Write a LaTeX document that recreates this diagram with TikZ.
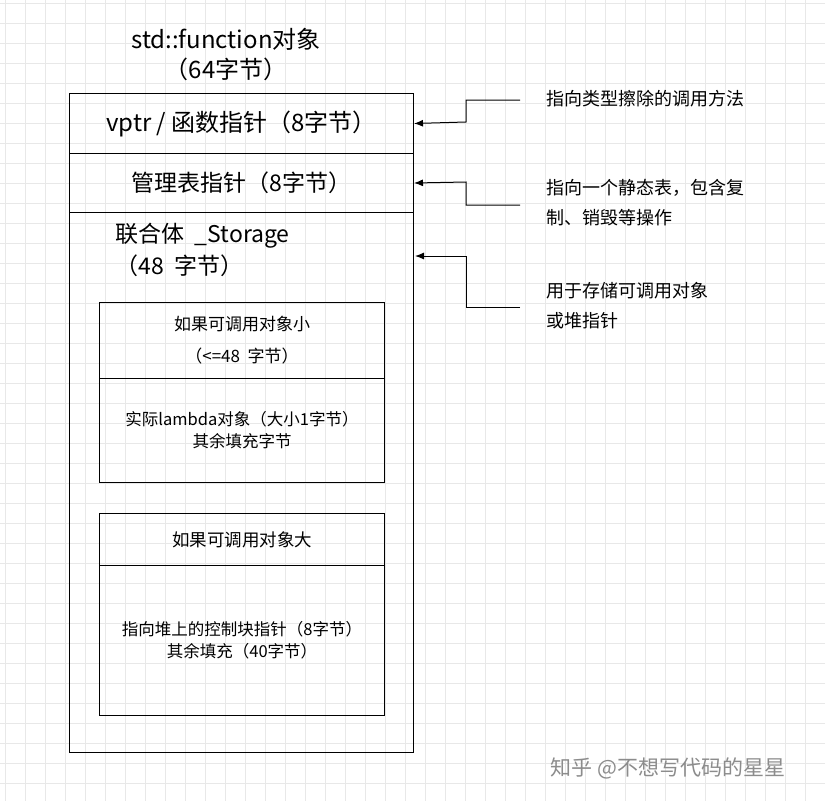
\documentclass[tikz,border=0pt]{standalone}
\usepackage{fontspec}
\setmainfont{Noto Sans CJK SC}
\usetikzlibrary{positioning,arrows.meta}
\tikzset{
  cell/.style={draw, line width=1pt, inner sep=0pt, anchor=north west},
  note/.style={anchor=west, font=\fontsize{18}{30}\selectfont, align=left},
  link/.style={draw, line width=1pt, -{Latex[length=9pt,width=7pt]}}
}
\begin{document}
\begin{tikzpicture}[x=1pt,y=-1pt]
\useasboundingbox (0,0) rectangle (825,801);
\fill[white] (0,0) rectangle (825,801);
% grid
\foreach \k in {0,...,41} {
  \draw[black!9, line width=0.6pt] (\k*20+5,0) -- (\k*20+5,801);
  \draw[black!9, line width=0.6pt] (0,\k*20+3) -- (825,\k*20+3);
}
\node[font=\fontsize{24}{30}\selectfont, align=center] (title) at (226,55) {std::function对象\\（64字节）};
% outer block
\node[cell, minimum width=344pt, minimum height=659pt] (obj) at (69,93) {};
\node[cell, minimum width=344pt, minimum height=60pt, font=\fontsize{24}{26}\selectfont] (vptr) at (69,93) {vptr / 函数指针（8字节）};
\node[cell, minimum width=344pt, minimum height=59pt, font=\fontsize{23}{26}\selectfont] (mgr) at (69,153) {管理表指针（8字节）};
\node[anchor=north west, font=\fontsize{23}{32}\selectfont, align=left] (uni) at (112,220) {联合体 \ \_Storage\\（48 \ 字节）};
% small object
\node[cell, minimum width=285pt, minimum height=76pt, font=\fontsize{17}{32}\selectfont, align=center] (smallh) at (99,302) {如果可调用对象小\\（<=48 \ 字节）};
\node[cell, minimum width=285pt, minimum height=104pt, font=\fontsize{16.5}{22}\selectfont, align=center] (smallb) at (99,378) {实际lambda对象（大小1字节）\\其余填充字节};
% large object
\node[cell, minimum width=285pt, minimum height=52pt, font=\fontsize{17.5}{20}\selectfont] (bigh) at (99,513) {如果可调用对象大};
\node[cell, minimum width=285pt, minimum height=150pt, font=\fontsize{16.5}{22}\selectfont, align=center] (bigb) at (99,565) {指向堆上的控制块指针（8字节）\\其余填充（40字节）};
% notes
\node[note] (n1) at (543,99) {指向类型擦除的调用方法};
\node[note] (n2) at (543,203) {指向一个静态表，包含复\\制、销毁等操作};
\node[note] (n3) at (543,306) {用于存储可调用对象\\或堆指针};
\coordinate (p1) at (520,100);
\coordinate (p2) at (520,205);
\coordinate (p3) at (520,307);
\coordinate (t3) at (415,256);
\draw[link] (p1) -| (466,122) -- (vptr.east);
\draw[link] (p2) -| (466,182) -- (mgr.east);
\draw[link] (p3) -| (466,256) -- (t3);
\node[text=black!45, font=\fontsize{21}{24}\selectfont] (mark) at (668,768) {知乎 @不想写代码的星星};
\end{tikzpicture}
\end{document}
